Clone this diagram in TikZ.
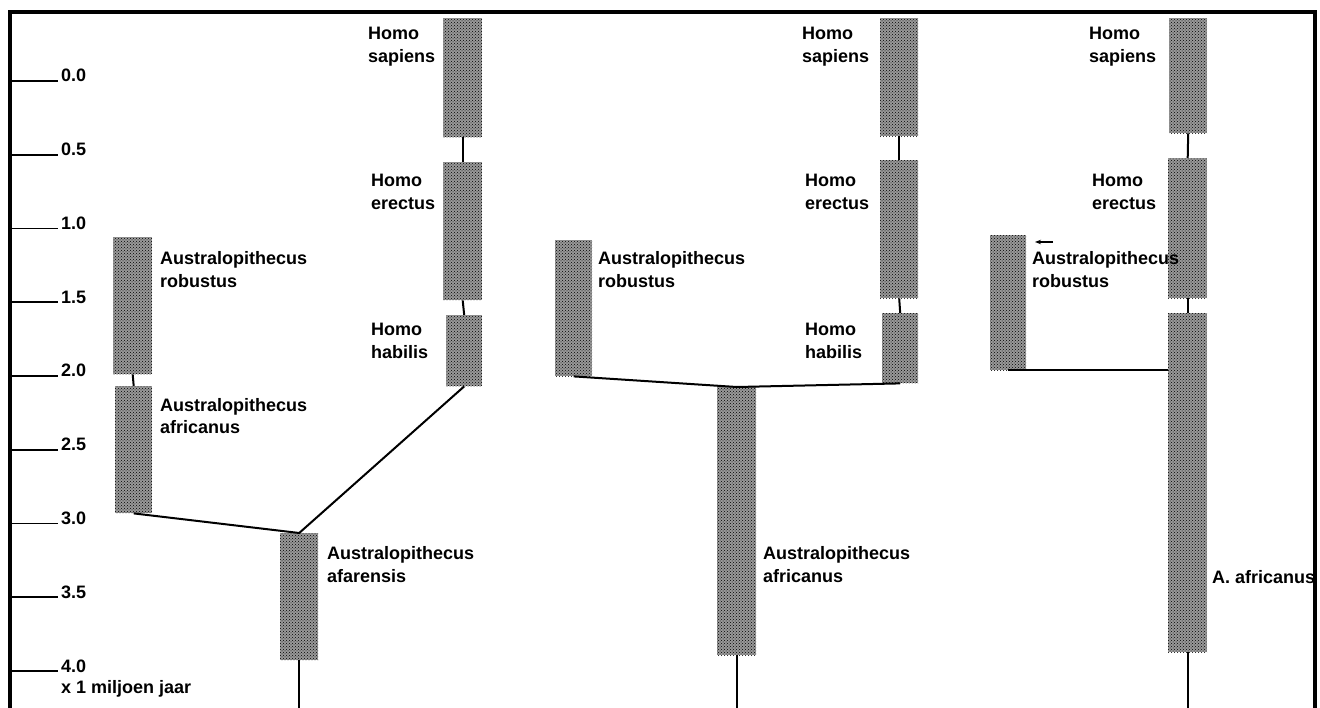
\documentclass[tikz,border=0pt]{standalone}
\usepackage{fontspec}
\setmainfont{Liberation Sans}
\usetikzlibrary{patterns,arrows.meta}
\newcommand{\sbar}[5]{\node[bar, minimum width={#4-#2}, minimum height={#5-#3}, anchor=north west] (#1) at (#2,#3) {};}
\begin{document}
\begin{tikzpicture}[x=1pt,y=-1pt,
  bar/.style={draw=none, inner sep=0pt, preaction={fill=black!40}, pattern=crosshatch dots, pattern color=black},
  lbl/.style={inner sep=0pt, align=left, font=\fontsize{18}{23}\selectfont\bfseries},
  link/.style={line width=2pt, line join=round},
  frame/.style={line width=3.5pt},
  tick/.style={line width=1.8pt}]
\useasboundingbox (0,0) rectangle (1320,708);
% frame
\coordinate (fbl) at (10,708);
\coordinate (ftl) at (10,12);
\coordinate (ftr) at (1315,12);
\coordinate (fbr) at (1315,708);
\draw[frame] (fbl) -- (ftl) -- (ftr) -- (fbr);
% scale
\foreach \v [count=\i from 0] in {0.0,0.5,1.0,1.5,2.0,2.5,3.0,3.5,4.0}{
  \coordinate (ta\i) at (11,{81+73.75*\i});
  \coordinate (tb\i) at (58,{81+73.75*\i});
  \draw[tick] (ta\i) -- (tb\i);
  \node[lbl, anchor=base west] (tl\i) at (61,{82+73.75*\i}) {\v};
}
\node[lbl, anchor=base west] (unit) at (61,693) {x 1 miljoen jaar};
% ---------- panel 1
\sbar{sap1}{443}{18}{482}{137}
\sbar{ere1}{443}{162}{482}{300}
\sbar{hab1}{446}{315}{482}{386}
\sbar{rob1}{113}{237}{152}{374}
\sbar{afr1}{115}{386}{152}{513}
\sbar{afa1}{280}{533}{318}{660}
\node[lbl, anchor=base west] (lsap1) at (368,63) {Homo\\sapiens};
\node[lbl, anchor=base west] (lere1) at (371,210) {Homo\\erectus};
\node[lbl, anchor=base west] (lhab1) at (371,359) {Homo\\habilis};
\node[lbl, anchor=base west] (lrob1) at (160,288) {Australopithecus\\robustus};
\node[lbl, anchor=base west] (lafr1) at (160,434) {Australopithecus\\africanus};
\node[lbl, anchor=base west] (lafa1) at (327,582) {Australopithecus\\afarensis};
\coordinate (end1) at (afa1.south |- fbl);
\draw[link] (sap1.south) -- (ere1.north);
\draw[link] (ere1.south) -- (hab1.north);
\draw[link] (rob1.south) -- (afr1.north);
\draw[link] (afr1.south) -- (afa1.north) -- (hab1.south);
\draw[link] (afa1.south) -- (end1);
% ---------- panel 2
\sbar{sap2}{880}{18}{918}{136}
\sbar{ere2}{880}{160}{918}{298}
\sbar{hab2}{882}{313}{918}{383}
\sbar{rob2}{555}{240}{592}{376}
\sbar{afr2}{717}{387}{756}{655}
\node[lbl, anchor=base west] (lsap2) at (802,63) {Homo\\sapiens};
\node[lbl, anchor=base west] (lere2) at (805,210) {Homo\\erectus};
\node[lbl, anchor=base west] (lhab2) at (805,359) {Homo\\habilis};
\node[lbl, anchor=base west] (lrob2) at (598,288) {Australopithecus\\robustus};
\node[lbl, anchor=base west] (lafr2) at (763,582) {Australopithecus\\africanus};
\coordinate (end2) at (afr2.south |- fbl);
\draw[link] (sap2.south) -- (ere2.north);
\draw[link] (ere2.south) -- (hab2.north);
\draw[link] (rob2.south) -- (afr2.north) -- (hab2.south);
\draw[link] (afr2.south) -- (end2);
% ---------- panel 3
\sbar{sap3}{1169}{18}{1207}{133}
\sbar{ere3}{1168}{158}{1207}{298}
\sbar{afr3}{1168}{313}{1207}{652}
\sbar{rob3}{990}{235}{1026}{370}
\node[lbl, anchor=base west] (lsap3) at (1089,63) {Homo\\sapiens};
\node[lbl, anchor=base west] (lere3) at (1092,210) {Homo\\erectus};
\node[lbl, anchor=base west] (lrob3) at (1032,288) {Australopithecus\\robustus};
\node[lbl, anchor=base west] (lafr3) at (1212,583) {A. africanus};
\coordinate (end3) at (afr3.south |- fbl);
\coordinate (arrA) at (1053,242);
\coordinate (arrB) at (1035,242);
\draw[link] (sap3.south) -- (ere3.north);
\draw[link] (ere3.south) -- (afr3.north);
\draw[link] (rob3.south) -- (rob3.south -| afr3.west);
\draw[link] (afr3.south) -- (end3);
\draw[line width=1.2pt, -{Stealth[length=6pt,width=4.5pt]}] (arrA) -- (arrB);
\end{tikzpicture}
\end{document}
